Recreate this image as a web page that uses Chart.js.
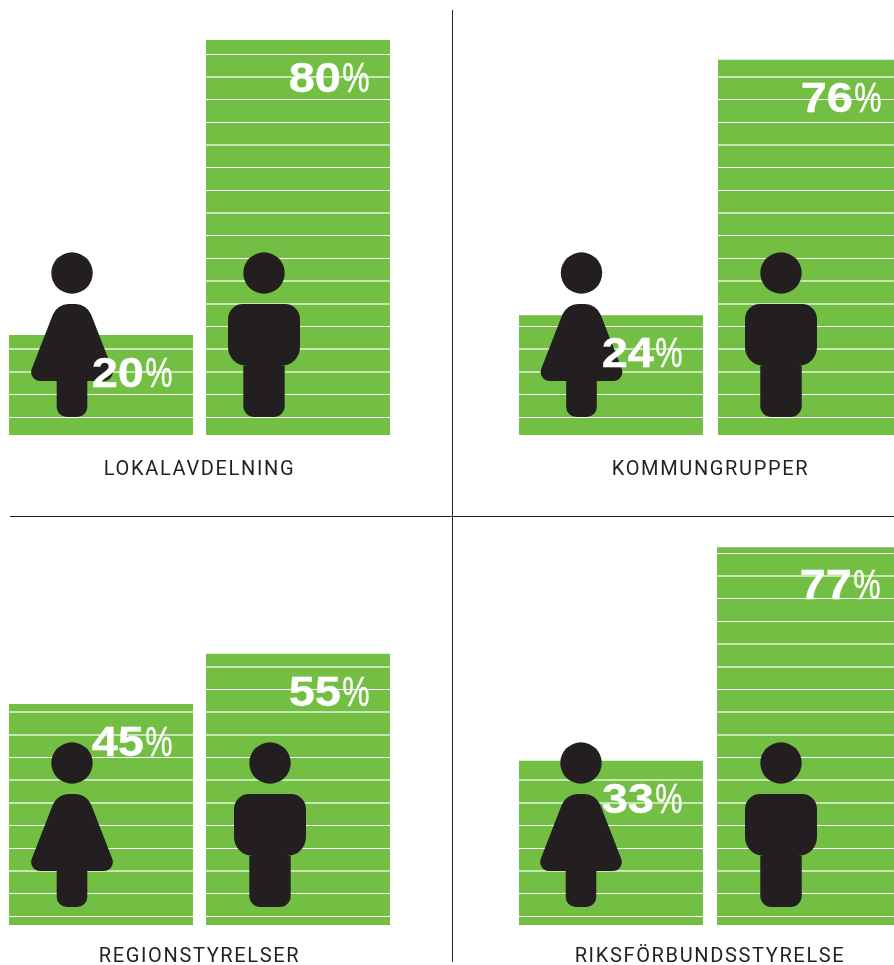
<!DOCTYPE html>
<html lang="sv">
<head>
<meta charset="utf-8">
<title>Kvinnor och män</title>
<script src="https://cdn.jsdelivr.net/npm/chart.js@4/dist/chart.umd.min.js"></script>
<style>
  html, body { margin: 0; padding: 0; background: #fff; overflow: hidden; width: 894px; height: 965px; }
  canvas { position: absolute; }
  .divider { position: absolute; background: #231f20; }
</style>
</head>
<body>
<div class="divider" style="left:10px;top:516px;width:884px;height:1px"></div>
<div class="divider" style="left:452px;top:10px;width:1px;height:952px"></div>
<canvas id="panel0"></canvas>
<canvas id="panel1"></canvas>
<canvas id="panel2"></canvas>
<canvas id="panel3"></canvas>
<script>
// Data, avlästa från stapelhöjderna; etiketterna visar avrundat värde
const panelTitles = ["LOKALAVDELNING", "KOMMUNGRUPPER", "REGIONSTYRELSER", "RIKSFÖRBUNDSSTYRELSE"];
const categories = ["Kvinnor", "Män"];
const womenValues = [20.3, 24.3, 44.8, 33.3];
const menValues = [80.1, 76.1, 55, 76.6];

// Layout
const GREEN = "#72bf44";
const DARK = "#231f20";
const AXIS_MAX = 88.2;
const STRIPE_STEP = 4.6;
const TITLE_SIZE = 20;
const panelLayout = [
  { left: 2, pad: 0.5, top: 0, width: 394, height: 435, titleGap: 26, stripeStart: 3.6, womanDx: -29, manDx: -34 },
  { left: 511, pad: 0.5, top: 0, width: 398, height: 435, titleGap: 26, stripeStart: 3.6, womanDx: -29.5, manDx: -29 },
  { left: 2, pad: 0.5, top: 490, width: 394, height: 435, titleGap: 23, stripeStart: 1.76, womanDx: -29, manDx: -28 },
  { left: 512, pad: 0, top: 490, width: 396, height: 435, titleGap: 23, stripeStart: 1.76, womanDx: -30, manDx: -28 }
];

// Figurer, origo i huvudets mitt
function roundedPoly(ctx, pts) {
  pts.forEach((p, i) => {
    if (i === 0) ctx.moveTo(p[0], p[1]);
    else if (p[2]) {
      const next = pts[(i + 1) % pts.length];
      ctx.arcTo(p[0], p[1], next[0], next[1], p[2]);
    } else ctx.lineTo(p[0], p[1]);
  });
  ctx.closePath();
}
function drawWoman(ctx, x, y) {
  ctx.save();
  ctx.translate(x, y);
  ctx.fillStyle = DARK;
  ctx.beginPath();
  ctx.arc(0, 0, 20.7, 0, Math.PI * 2);
  ctx.fill();
  ctx.beginPath();
  roundedPoly(ctx, [
    [0, 31], [15, 31, 17], [45, 108, 9], [15.3, 108], [15.3, 144, 10], [-15.3, 144, 10],
    [-15.3, 108], [-45, 108, 9], [-15, 31, 17]
  ]);
  ctx.fill();
  ctx.restore();
}
function drawMan(ctx, x, y) {
  ctx.save();
  ctx.translate(x, y);
  ctx.fillStyle = DARK;
  ctx.beginPath();
  ctx.arc(0, 0, 20.7, 0, Math.PI * 2);
  ctx.fill();
  ctx.beginPath();
  roundedPoly(ctx, [
    [0, 31], [36, 31, 15], [36, 93, 19], [20.7, 93], [20.7, 144, 11], [-20.7, 144, 11],
    [-20.7, 93], [-36, 93, 19], [-36, 31, 15]
  ]);
  ctx.fill();
  ctx.restore();
}

// Siffror och figurer ovanpå staplarna
const figurePlugin = {
  id: "figures",
  beforeDraw(chart) {
    chart.ctx.letterSpacing = "1.65px";
  },
  afterDraw(chart, args, opts) {
    const ctx = chart.ctx;
    const bars = chart.getDatasetMeta(0).data;
    ctx.letterSpacing = "0px";
    drawWoman(ctx, bars[0].x + opts.womanDx, bars[0].base - 162);
    drawMan(ctx, bars[1].x + opts.manDx, bars[1].base - 162);
    bars.forEach((bar, i) => {
      const value = Math.round(chart.data.datasets[0].data[i]);
      ctx.save();
      ctx.fillStyle = "#fff";
      ctx.strokeStyle = "#fff";
      ctx.textAlign = "right";
      ctx.textBaseline = "alphabetic";
      ctx.translate(bar.x + 71.5, bar.y + 52);
      ctx.save();
      ctx.scale(0.73, 1);
      ctx.font = '400 42px "Liberation Sans"';
      ctx.lineWidth = 0.4;
      ctx.fillText("%", 0, 0);
      ctx.strokeText("%", 0, 0);
      ctx.restore();
      ctx.translate(-28.5, 0);
      ctx.scale(1.12, 1);
      ctx.font = '700 42px "Liberation Sans"';
      ctx.lineWidth = 0.3;
      ctx.fillText(String(value), 0, 0);
      ctx.strokeText(String(value), 0, 0);
      ctx.restore();
    });
  }
};

// Ränderna ligger mellan pixlar i förlagan: vissa skarpa, andra bleka och bredare
function isCrispStripe(ctx) {
  const y = ctx.scale.getPixelForValue(ctx.tick.value);
  const frac = y - Math.floor(y);
  return frac >= 0.2 && frac < 0.75;
}

panelTitles.forEach((title, i) => {
  const p = panelLayout[i];
  const canvas = document.getElementById("panel" + i);
  canvas.width = p.width + 1;
  canvas.height = p.height + p.titleGap - 1 + TITLE_SIZE;
  canvas.style.left = p.left + "px";
  canvas.style.top = p.top + "px";
  new Chart(canvas, {
    type: "bar",
    data: {
      labels: categories,
      datasets: [{
        data: [womenValues[i], menValues[i]],
        backgroundColor: GREEN,
        borderWidth: 0,
        barPercentage: 184 / (p.width / 2),
        categoryPercentage: 1
      }]
    },
    options: {
      responsive: false,
      animation: false,
      layout: { padding: { left: p.pad, right: 1 - p.pad, top: 0, bottom: 0 } },
      scales: {
        x: { display: false },
        y: {
          min: 0,
          max: AXIS_MAX,
          border: { display: false },
          ticks: { display: false },
          grid: {
            z: 1,
            drawTicks: false,
            color: ctx => isCrispStripe(ctx) ? "#fff" : "rgba(255,255,255,0.6)",
            lineWidth: ctx => isCrispStripe(ctx) ? 1 : 2
          },
          afterBuildTicks(scale) {
            const stripes = [];
            for (let v = p.stripeStart; v < AXIS_MAX; v += STRIPE_STEP) stripes.push({ value: v });
            scale.ticks = stripes;
          }
        }
      },
      plugins: {
        legend: { display: false },
        tooltip: { enabled: false },
        title: {
          display: true,
          text: title,
          position: "bottom",
          color: DARK,
          font: { family: "Roboto", size: TITLE_SIZE, weight: "400", lineHeight: 1 },
          padding: { top: p.titleGap - 1, bottom: 0 }
        },
        figures: { womanDx: p.womanDx, manDx: p.manDx }
      }
    },
    plugins: [figurePlugin]
  });
});
</script>
</body>
</html>
